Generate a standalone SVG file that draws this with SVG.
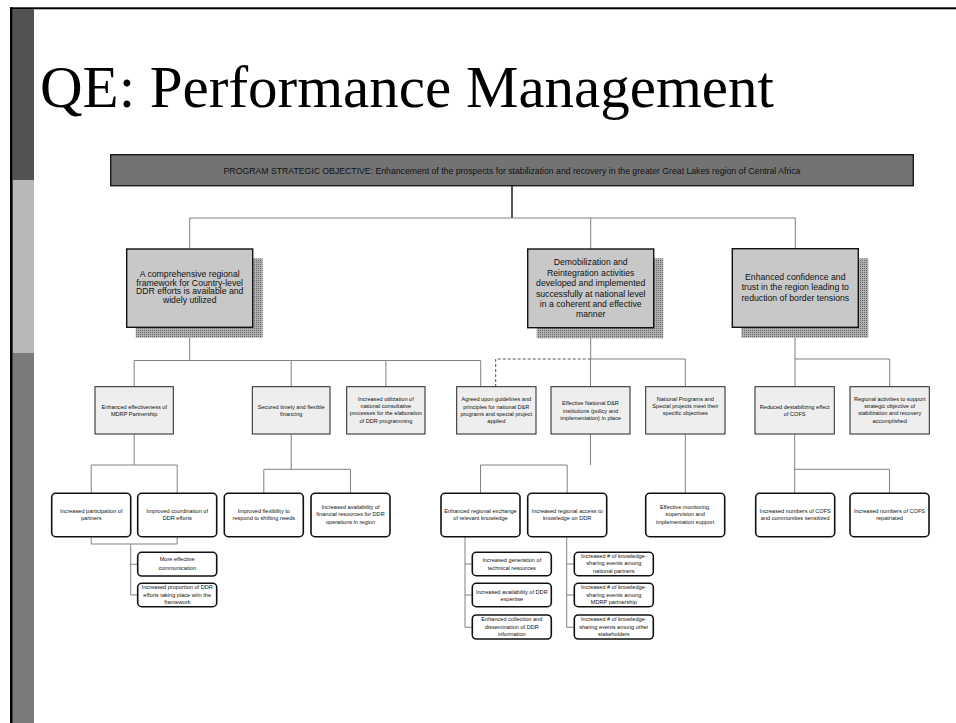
<svg xmlns="http://www.w3.org/2000/svg" width="956" height="723" viewBox="0 0 956 723">
<defs>
<pattern id="dots" width="2" height="2" patternUnits="userSpaceOnUse">
<rect width="2" height="2" fill="#b0b0b0"/>
<rect width="1" height="1" fill="#6a6a6a"/>
</pattern>
<style>
text{font-family:"Liberation Sans",Arial,sans-serif;fill:#111;text-anchor:middle}
.title{font-family:"Liberation Serif","Times New Roman",serif;font-size:59px;text-anchor:start;fill:#000}
.t1{font-size:8.7px}
.t2{font-size:5.6px}
.shadow{fill:url(#dots)}
.l1{fill:#c8c8c8;stroke:#111;stroke-width:1.4}
.l2{fill:#eeeeee;stroke:#222;stroke-width:1}
.l3{fill:#fff;stroke:#111;stroke-width:1.6}
.c{fill:none;stroke:#808080;stroke-width:1}
.dash{fill:none;stroke:#555;stroke-width:1;stroke-dasharray:3 2}
</style>
</defs>
<rect width="956" height="723" fill="#fff"/>
<g id="frame">
<rect x="12.7" y="9.3" width="21.3" height="171" fill="#525252"/>
<rect x="12.7" y="180" width="21.3" height="173" fill="#b8b8b8"/>
<rect x="12.7" y="353" width="21.3" height="370" fill="#7a7a7a"/>
<rect x="10" y="7.3" width="946" height="2" fill="#000"/>
<rect x="10" y="7.3" width="2.7" height="716" fill="#000"/>
</g>
<text class="title" x="40" y="107">QE: Performance Management</text>
<g id="connectors">
<line x1="512" y1="185.5" x2="512" y2="218" stroke="#555" stroke-width="2"/>
<path class="c" d="M189.7 249V218H795.3V249M590.7 218V249"/>
<path class="c" d="M189.7 337.7V360.5M134.2 386.7V360.5H480.7V386.7M291.2 360.5V386.7M385.9 360.5V386.7"/>
<path class="c" d="M590.7 338V359H685.3V386.7M590.5 359V386.7"/>
<path class="dash" d="M590.7 359H495.7V386.7"/>
<path class="c" d="M795 337.7V386.7M795 359H889.7V386.7"/>
<path class="c" d="M134.2 434V465M91.2 493.3V465H177.2V493.3"/>
<path class="c" d="M291.2 434V469.3M263.8 493.3V469.3H350.5V493.3"/>
<path class="c" d="M590.5 434V465M480.5 493.3V465H567.2V493.3"/>
<path class="c" d="M685.3 434V493.3"/>
<path class="c" d="M794.7 434V493.3M794.7 469.3H889.5V493.3"/>
<path class="c" d="M91.2 536.7V544H177.2V536.7M130.7 544V595H137.7M130.7 564.3H137.7"/>
<path class="c" d="M465 536.7V627.3H472.3M465 564H472.3M465 595H472.3"/>
<path class="c" d="M566.7 536.7V627.3H574.3M566.7 564H574.3M566.7 595H574.3"/>
</g>
<g id="objective">
<rect x="110.7" y="154.7" width="802.6" height="31" fill="#737373" stroke="#1a1a1a" stroke-width="1.4"/>
<text class="t1" x="512" y="173.8">PROGRAM STRATEGIC OBJECTIVE: Enhancement of the prospects for stabilization and recovery in the greater Great Lakes region of Central Africa</text>
</g>
<g id="ir1">
<rect class="shadow" x="135.7" y="258.3" width="127" height="79.4"/>
<rect class="l1" x="126.7" y="249" width="126" height="78.3"/>
<text class="t1" x="189.7" y="277">A comprehensive regional</text>
<text class="t1" x="189.7" y="285.7">framework for Country-level</text>
<text class="t1" x="189.7" y="294.4">DDR efforts is available and</text>
<text class="t1" x="189.7" y="303.1">widely utilized</text>
</g>
<g id="ir2">
<rect class="shadow" x="536.7" y="258.3" width="126.6" height="80"/>
<rect class="l1" x="527.7" y="249" width="126" height="78.7"/>
<text class="t1" x="590.7" y="265.3">Demobilization and</text>
<text class="t1" x="590.7" y="275.7">Reintegration activities</text>
<text class="t1" x="590.7" y="286.1">developed and implemented</text>
<text class="t1" x="590.7" y="296.5">successfully at national level</text>
<text class="t1" x="590.7" y="306.9">in a coherent and effective</text>
<text class="t1" x="590.7" y="317.3">manner</text>
</g>
<g id="ir3">
<rect class="shadow" x="741.3" y="258.3" width="127" height="79.4"/>
<rect class="l1" x="732.3" y="248.7" width="126" height="78.6"/>
<text class="t1" x="795.3" y="280">Enhanced confidence and</text>
<text class="t1" x="795.3" y="290.4">trust in the region leading to</text>
<text class="t1" x="795.3" y="300.8">reduction of border tensions</text>
</g>
<g id="r1">
<rect class="l2" x="95" y="386.7" width="78.3" height="47.3"/>
<text class="t2" x="134.2" y="408.7">Enhanced effectiveness of</text>
<text class="t2" x="134.2" y="416">MDRP Partnership</text>
</g>
<g id="r2">
<rect class="l2" x="252.3" y="386.7" width="77.7" height="47.3"/>
<text class="t2" x="291.2" y="408.7">Secured timely and flexible</text>
<text class="t2" x="291.2" y="416">financing</text>
</g>
<g id="r3">
<rect class="l2" x="346.7" y="386.7" width="78.3" height="47.3"/>
<text class="t2" x="385.9" y="401">Increased utilization of</text>
<text class="t2" x="385.9" y="408.2">national consultative</text>
<text class="t2" x="385.9" y="415.4">processes for the elaboration</text>
<text class="t2" x="385.9" y="422.6">of DDR programming</text>
</g>
<g id="r4">
<rect class="l2" x="456.7" y="386.7" width="79.3" height="47.3"/>
<text class="t2" x="496.3" y="401.3">Agreed upon guidelines and</text>
<text class="t2" x="496.3" y="408.6">principles for national D&amp;R</text>
<text class="t2" x="496.3" y="415.9">programs and special project</text>
<text class="t2" x="496.3" y="423">applied</text>
</g>
<g id="r5">
<rect class="l2" x="551" y="386.7" width="79" height="47.3"/>
<text class="t2" x="590.5" y="405.3">Effective National D&amp;R</text>
<text class="t2" x="590.5" y="412.6">institutions (policy and</text>
<text class="t2" x="590.5" y="419.9">implementation) in place</text>
</g>
<g id="r6">
<rect class="l2" x="645.7" y="386.7" width="79.3" height="47.3"/>
<text class="t2" x="685.3" y="401">National Programs and</text>
<text class="t2" x="685.3" y="408.2">Special projects meet their</text>
<text class="t2" x="685.3" y="415.4">specific objectives</text>
</g>
<g id="r7">
<rect class="l2" x="755" y="386.7" width="79.3" height="47.3"/>
<text class="t2" x="794.7" y="408.7">Reduced destabilizing effect</text>
<text class="t2" x="794.7" y="416">of COFS</text>
</g>
<g id="r8">
<rect class="l2" x="850" y="386.7" width="79.3" height="47.3"/>
<text class="t2" x="889.7" y="401">Regional activities to support</text>
<text class="t2" x="889.7" y="408.2">strategic objective of</text>
<text class="t2" x="889.7" y="415.4">stabilization and recovery</text>
<text class="t2" x="889.7" y="422.6">accomplished</text>
</g>
<g id="s1">
<rect class="l3" x="51.7" y="493.3" width="79" height="43.4" rx="4"/>
<text class="t2" x="91.2" y="513">Increased participation of</text>
<text class="t2" x="91.2" y="520.3">partners</text>
</g>
<g id="s2">
<rect class="l3" x="137.7" y="493.3" width="79" height="43.4" rx="4"/>
<text class="t2" x="177.2" y="513">Improved coordination of</text>
<text class="t2" x="177.2" y="520.3">DDR efforts</text>
</g>
<g id="s3">
<rect class="l3" x="224.3" y="493.3" width="79" height="43.4" rx="4"/>
<text class="t2" x="263.8" y="513">Improved flexibility to</text>
<text class="t2" x="263.8" y="520.3">respond to shifting needs</text>
</g>
<g id="s4">
<rect class="l3" x="311" y="493.3" width="79" height="43.4" rx="4"/>
<text class="t2" x="350.5" y="508.7">Increased availability of</text>
<text class="t2" x="350.5" y="516">financial resources for DDR</text>
<text class="t2" x="350.5" y="523.7">operations in region</text>
</g>
<g id="s5">
<rect class="l3" x="441" y="493.3" width="79" height="43.4" rx="4"/>
<text class="t2" x="480.5" y="513">Enhanced regional exchange</text>
<text class="t2" x="480.5" y="520.3">of relevant knowledge</text>
</g>
<g id="s6">
<rect class="l3" x="527.7" y="493.3" width="79" height="43.4" rx="4"/>
<text class="t2" x="567.2" y="513">Increased regional access to</text>
<text class="t2" x="567.2" y="520.3">knowledge on DDR</text>
</g>
<g id="s7">
<rect class="l3" x="645.7" y="493.3" width="79" height="43.4" rx="4"/>
<text class="t2" x="685.2" y="508.7">Effective monitoring,</text>
<text class="t2" x="685.2" y="516">supervision and</text>
<text class="t2" x="685.2" y="523.7">implementation support</text>
</g>
<g id="s8">
<rect class="l3" x="755.7" y="493.3" width="79" height="43.4" rx="4"/>
<text class="t2" x="795.2" y="513">Increased numbers of COFS</text>
<text class="t2" x="795.2" y="520.3">and communities sensitized</text>
</g>
<g id="s9">
<rect class="l3" x="850" y="493.3" width="79" height="43.4" rx="4"/>
<text class="t2" x="889.5" y="513">Increased numbers of COFS</text>
<text class="t2" x="889.5" y="520.3">repatriated</text>
</g>
<g id="u1">
<rect class="l3" x="137.7" y="552.3" width="79" height="23.7" rx="4"/>
<text class="t2" x="177.2" y="561.3">More effective</text>
<text class="t2" x="177.2" y="569.7">communication</text>
</g>
<g id="u2">
<rect class="l3" x="137.7" y="583.3" width="79" height="23.4" rx="4"/>
<text class="t2" x="177.2" y="589.3">Increased proportion of DDR</text>
<text class="t2" x="177.2" y="597">efforts taking place w/in the</text>
<text class="t2" x="177.2" y="604.3">framework</text>
</g>
<g id="v1">
<rect class="l3" x="472.3" y="552.3" width="79" height="23.4" rx="4"/>
<text class="t2" x="511.8" y="562">Increased generation of</text>
<text class="t2" x="511.8" y="569.7">technical resources</text>
</g>
<g id="v2">
<rect class="l3" x="472.3" y="583.3" width="79" height="23.4" rx="4"/>
<text class="t2" x="511.8" y="593.7">Increased availability of DDR</text>
<text class="t2" x="511.8" y="601">expertise</text>
</g>
<g id="v3">
<rect class="l3" x="472.3" y="615" width="79" height="24" rx="4"/>
<text class="t2" x="511.8" y="621">Enhanced collection and</text>
<text class="t2" x="511.8" y="628.7">dissemination of DDR</text>
<text class="t2" x="511.8" y="636.3">information</text>
</g>
<g id="w1">
<rect class="l3" x="574.3" y="552.3" width="79" height="23.4" rx="4"/>
<text class="t2" x="613.8" y="557.7">Increased # of knowledge-</text>
<text class="t2" x="613.8" y="565.3">sharing events among</text>
<text class="t2" x="613.8" y="573.3">national partners</text>
</g>
<g id="w2">
<rect class="l3" x="574.3" y="583.3" width="79" height="23.4" rx="4"/>
<text class="t2" x="613.8" y="589.3">Increased # of knowledge-</text>
<text class="t2" x="613.8" y="597">sharing events among</text>
<text class="t2" x="613.8" y="604.3">MDRP partnership</text>
</g>
<g id="w3">
<rect class="l3" x="574.3" y="615" width="79" height="24" rx="4"/>
<text class="t2" x="613.8" y="621">Increased # of knowledge-</text>
<text class="t2" x="613.8" y="628.7">sharing events among other</text>
<text class="t2" x="613.8" y="636.3">stakeholders</text>
</g>
</svg>
